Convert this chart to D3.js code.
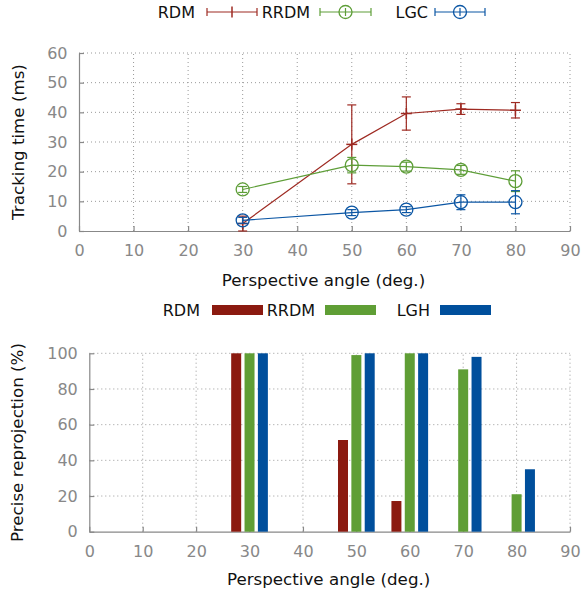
<!DOCTYPE html>
<html><head><meta charset="utf-8">
<script src="https://cdn.jsdelivr.net/npm/d3@7"></script>
<style>body{margin:0;background:#fff}svg{display:block}</style>
</head><body>
<svg id="c" width="583" height="595"></svg>
<script>
// ---- data ----
const angles = [30, 50, 60, 70, 80];
const lineSeries = ["RDM", "RRDM", "LGC"];
const rdmTime = [2.5, 29.2, 39.6, 41.1, 40.7];
const rdmErr = [2.5, 13.3, 5.6, 1.8, 2.6];
const rrdmTime = [14.0, 22.2, 21.7, 20.6, 16.8];
const rrdmErr = [1.0, 2.6, 1.5, 1.5, 3.5];
const lgcTime = [3.6, 6.2, 7.2, 9.7, 9.7];
const lgcErr = [1.0, 1.0, 1.0, 2.5, 3.9];
const barSeries = ["RDM", "RRDM", "LGH"];
const rdmPrec = [100, 51.4, 17.2, 0, 0];
const rrdmPrec = [100, 99, 100, 91, 21];
const lghPrec = [100, 100, 100, 98, 35];
const xTicks = [0, 10, 20, 30, 40, 50, 60, 70, 80, 90];
const yTicksTop = [0, 10, 20, 30, 40, 50, 60];
const yTicksBot = [0, 20, 40, 60, 80, 100];

const lineColors = ["#9e2a22", "#5e9e38", "#0b56a4"];
const barColors = ["#8b1a10", "#5f9e35", "#004f9c"];
const FONT = "DejaVu Sans, sans-serif";
const svg = d3.select("#c");

function frame(g, x, y, yTicks, xTitle, yTitle, xTitleY, yTitleX) {
  const [x0, x1] = x.range();
  const [y0, y1] = y.range();
  const grid = g.append("g");
  xTicks.forEach(t => {
    if (t === 0) return;
    grid.append("line").attr("x1", x(t)).attr("x2", x(t)).attr("y1", y0).attr("y2", y1)
      .attr("stroke", "#999").attr("stroke-width", 1).attr("stroke-dasharray", "1,3");
  });
  yTicks.forEach(t => {
    if (t === 0) return;
    grid.append("line").attr("x1", x0).attr("x2", x1).attr("y1", y(t)).attr("y2", y(t))
      .attr("stroke", "#999").attr("stroke-width", 1).attr("stroke-dasharray", "1,3");
  });
  const xa = g.append("g").attr("transform", `translate(0,${y0})`)
    .call(d3.axisBottom(x).tickValues(xTicks).tickSizeInner(-5).tickSizeOuter(0).tickPadding(13.5));
  const ya = g.append("g").attr("transform", `translate(${x0},0)`)
    .call(d3.axisLeft(y).tickValues(yTicks).tickSizeInner(-5).tickSizeOuter(0).tickPadding(11.5));
  [xa, ya].forEach(a => {
    a.select(".domain").attr("stroke", "#888").attr("stroke-width", 1.2);
    a.selectAll(".tick line").attr("stroke", "#888").attr("stroke-width", 1.2);
    a.selectAll("text").attr("fill", "#888").style("font-family", FONT).style("font-size", "16px");
  });
  g.append("text").attr("x", (x0 + x1) / 2 - 1).attr("y", xTitleY).attr("text-anchor", "middle")
    .style("font-family", FONT).style("font-size", "16.7px").attr("fill", "#111").text(xTitle);
  g.append("text").attr("transform", `translate(${yTitleX},${(y0 + y1) / 2}) rotate(-90)`)
    .attr("text-anchor", "middle").attr("dy", "0.35em")
    .style("font-family", FONT).style("font-size", "16.7px").attr("fill", "#111").text(yTitle);
}

// ---- top chart ----
const xT = d3.scaleLinear().domain([0, 90]).range([79, 570]);
const yT = d3.scaleLinear().domain([0, 60]).range([231, 53]);
const gT = svg.append("g");
frame(gT, xT, yT, yTicksTop, "Perspective angle (deg.)", "Tracking time (ms)", 286, 18);

const lineData = [
  angles.map((a, i) => ({ x: a, y: rdmTime[i], e: rdmErr[i] })),
  angles.map((a, i) => ({ x: a, y: rrdmTime[i], e: rrdmErr[i] })),
  angles.map((a, i) => ({ x: a, y: lgcTime[i], e: lgcErr[i] }))
];
const lineGen = d3.line().x(d => xT(d.x)).y(d => yT(d.y));
lineData.forEach((pts, s) => {
  const c = lineColors[s];
  const g = gT.append("g");
  g.append("path").attr("d", lineGen(pts)).attr("fill", "none").attr("stroke", c).attr("stroke-width", 1.2);
  pts.forEach(p => {
    const cx = xT(p.x), yt = yT(p.y + p.e), yb = yT(Math.max(0, p.y - p.e));
    g.append("line").attr("x1", cx).attr("x2", cx).attr("y1", yt).attr("y2", yb).attr("stroke", c).attr("stroke-width", 1.2);
    [yt, yb].forEach(yy => g.append("line").attr("x1", cx - 4.5).attr("x2", cx + 4.5).attr("y1", yy).attr("y2", yy).attr("stroke", c).attr("stroke-width", 1.2));
    const cy = yT(p.y);
    if (s === 0) {
      g.append("line").attr("x1", cx - 5.5).attr("x2", cx + 5.5).attr("y1", cy).attr("y2", cy).attr("stroke", c).attr("stroke-width", 1.5);
      g.append("line").attr("x1", cx).attr("x2", cx).attr("y1", cy - 5.5).attr("y2", cy + 5.5).attr("stroke", c).attr("stroke-width", 1.5);
    } else {
      g.append("circle").attr("cx", cx).attr("cy", cy).attr("r", 6.5).attr("fill", "none").attr("stroke", c).attr("stroke-width", 1.3);
    }
  });
});

// top legend
const legT = [
  { label: lineSeries[0], tx: 195, lx0: 207, lx1: 257 },
  { label: lineSeries[1], tx: 310, lx0: 320, lx1: 371 },
  { label: lineSeries[2], tx: 428, lx0: 435, lx1: 485 }
];
legT.forEach((l, s) => {
  const c = lineColors[s], ly = 12;
  svg.append("text").attr("x", l.tx).attr("y", ly).attr("dy", "0.35em").attr("text-anchor", "end")
    .style("font-family", FONT).style("font-size", "16px").attr("fill", "#111").text(l.label);
  svg.append("line").attr("x1", l.lx0).attr("x2", l.lx1).attr("y1", ly).attr("y2", ly).attr("stroke", c).attr("stroke-width", 1.2);
  [l.lx0, l.lx1].forEach(xx => svg.append("line").attr("x1", xx).attr("x2", xx).attr("y1", ly - 4).attr("y2", ly + 4).attr("stroke", c).attr("stroke-width", 1.2));
  const mx = (l.lx0 + l.lx1) / 2;
  if (s === 0) {
    svg.append("line").attr("x1", mx).attr("x2", mx).attr("y1", ly - 5.5).attr("y2", ly + 5.5).attr("stroke", c).attr("stroke-width", 1.5);
  } else {
    svg.append("circle").attr("cx", mx).attr("cy", ly).attr("r", 6.5).attr("fill", "none").attr("stroke", c).attr("stroke-width", 1.3);
    svg.append("line").attr("x1", mx).attr("x2", mx).attr("y1", ly - 4).attr("y2", ly + 4).attr("stroke", c).attr("stroke-width", 1.2);
  }
});

// ---- bottom chart ----
const xB = d3.scaleLinear().domain([0, 90]).range([89.3, 570]);
const yB = d3.scaleLinear().domain([0, 100]).range([531.7, 353.3]);
const gB = svg.append("g");
frame(gB, xB, yB, yTicksBot, "Perspective angle (deg.)", "Precise reprojection (%)", 585, 17);

const barData = [rdmPrec, rrdmPrec, lghPrec];
const offsets = [-2.5, 0, 2.5];
const bw = 1.87;
barData.forEach((vals, s) => {
  gB.append("g").selectAll("rect").data(angles.map((a, i) => ({ x: a, v: vals[i] })).filter(d => d.v > 0))
    .join("rect")
    .attr("x", d => xB(d.x + offsets[s] - bw / 2))
    .attr("width", d => xB(d.x + offsets[s] + bw / 2) - xB(d.x + offsets[s] - bw / 2))
    .attr("y", d => yB(d.v))
    .attr("height", d => yB(0) - yB(d.v))
    .attr("fill", barColors[s]);
});

// bottom legend
const legB = [
  { label: barSeries[0], tx: 200, rx: 212 },
  { label: barSeries[1], tx: 315, rx: 325 },
  { label: barSeries[2], tx: 430, rx: 440 }
];
legB.forEach((l, s) => {
  const ly = 310;
  svg.append("text").attr("x", l.tx).attr("y", ly).attr("dy", "0.35em").attr("text-anchor", "end")
    .style("font-family", FONT).style("font-size", "16px").attr("fill", "#111").text(l.label);
  svg.append("rect").attr("x", l.rx).attr("y", ly - 5).attr("width", 51).attr("height", 10).attr("fill", barColors[s]);
});
</script>
</body></html>
